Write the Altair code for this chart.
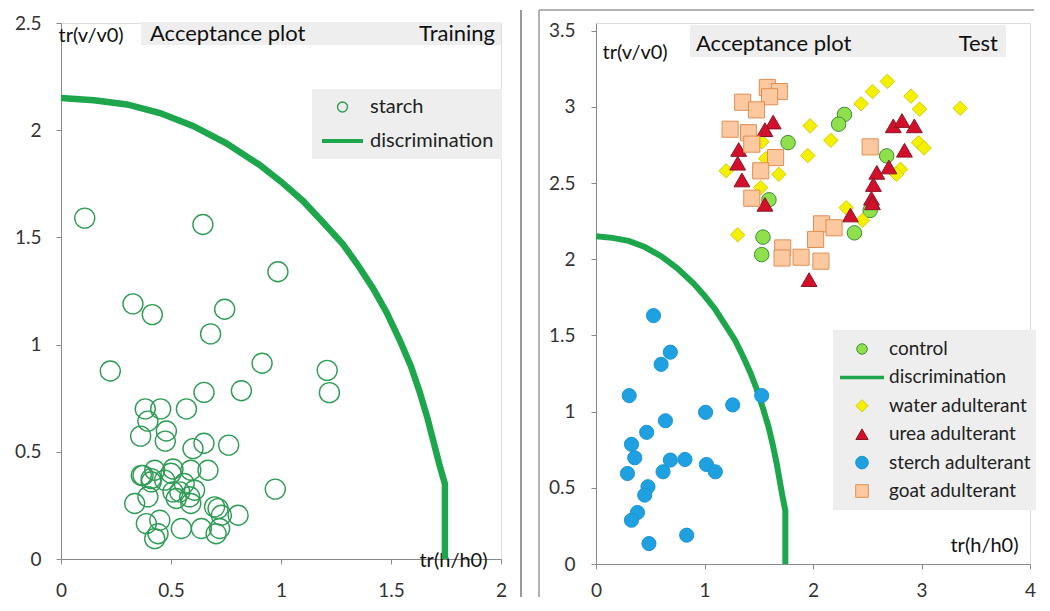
import altair as alt
import pandas as pd

# ---------------- data ----------------
# discrimination boundary
curve_x = [0.0, 0.15, 0.3, 0.45, 0.6, 0.75, 0.9, 1.0, 1.1, 1.2, 1.28, 1.35, 1.42, 1.48, 1.54, 1.59,
           1.63, 1.665, 1.695, 1.72, 1.745, 1.745]
curve_y = [2.15, 2.14, 2.12, 2.08, 2.02, 1.94, 1.84, 1.76, 1.67, 1.56, 1.47, 1.37, 1.26, 1.15, 1.02, 0.9,
           0.78, 0.66, 0.54, 0.44, 0.35, 0.0]

# training: starch
starch_x = [0.108, 0.645, 0.986, 0.327, 0.415, 0.744, 0.68, 0.224, 0.914, 1.21, 1.22, 0.82, 0.65, 0.57,
            0.383, 0.453, 0.395, 0.362, 0.479, 0.474, 0.6, 0.65, 0.762, 0.974, 0.373, 0.426, 0.509, 0.59,
            0.668, 0.41, 0.471, 0.509, 0.56, 0.607, 0.335, 0.395, 0.524, 0.59, 0.698, 0.729, 0.805, 0.388,
            0.449, 0.547, 0.638, 0.721, 0.441, 0.426, 0.705, 0.714, 0.41, 0.5, 0.54, 0.585, 0.365]
starch_y = [1.59, 1.56, 1.34, 1.19, 1.14, 1.165, 1.05, 0.877, 0.913, 0.88, 0.776, 0.785, 0.777, 0.70,
            0.70, 0.70, 0.643, 0.573, 0.597, 0.55, 0.515, 0.54, 0.531, 0.326, 0.39, 0.414, 0.42, 0.414,
            0.414, 0.36, 0.368, 0.313, 0.352, 0.321, 0.259, 0.29, 0.282, 0.259, 0.243, 0.204, 0.204, 0.165,
            0.181, 0.142, 0.142, 0.142, 0.118, 0.095, 0.118, 0.235, 0.375, 0.4, 0.313, 0.29, 0.39]

# test set
control_x = [2.29, 2.236, 1.77, 2.679, 1.594, 2.527, 2.382, 1.539, 1.527]
control_y = [2.95, 2.886, 2.765, 2.678, 2.39, 2.32, 2.173, 2.145, 2.03]

water_x = [2.685, 2.548, 2.903, 2.443, 2.982, 3.357, 1.973, 2.164, 1.952, 2.973, 3.024, 1.2, 1.685,
           1.518, 2.806, 2.77, 2.457, 2.306, 1.306, 1.564, 1.53]
water_y = [3.167, 3.1, 3.07, 3.02, 2.985, 2.99, 2.875, 2.78, 2.68, 2.765, 2.73, 2.58, 2.557,
           2.47, 2.59, 2.557, 2.255, 2.338, 2.16, 2.66, 2.77]

urea_x = [1.633, 1.557, 1.315, 1.306, 1.345, 1.557, 2.74, 2.82, 2.934, 2.843, 2.7, 2.588, 2.557,
          2.539, 2.548, 2.345, 1.964]
urea_y = [2.9, 2.85, 2.72, 2.63, 2.52, 2.36, 2.875, 2.91, 2.875, 2.715, 2.605, 2.57, 2.49,
          2.4, 2.37, 2.29, 1.866]

sterch_x = [0.53, 0.685, 0.6, 0.306, 1.527, 1.26, 1.01, 0.64, 0.467, 0.327, 0.357, 0.685, 0.82,
            0.29, 0.618, 1.018, 1.1, 0.479, 0.449, 0.382, 0.327, 0.488, 0.836]
sterch_y = [1.63, 1.39, 1.31, 1.105, 1.105, 1.044, 0.995, 0.94, 0.864, 0.785, 0.697, 0.682, 0.686,
            0.594, 0.605, 0.653, 0.605, 0.507, 0.452, 0.338, 0.287, 0.134, 0.189]

goat_x = [1.579, 1.69, 1.6, 1.352, 1.479, 1.236, 1.406, 1.436, 1.655, 1.518, 1.436, 2.527, 2.079,
          2.194, 2.024, 1.721, 1.715, 1.89, 2.073]
goat_y = [3.127, 3.1, 3.066, 3.03, 2.98, 2.853, 2.83, 2.755, 2.667, 2.58, 2.4, 2.737, 2.232,
          2.206, 2.13, 2.074, 2.008, 2.013, 1.987]

train_series = ["starch", "discrimination"]
test_series = ["control", "discrimination", "water adulterant", "urea adulterant",
               "sterch adulterant", "goat adulterant"]

# ---------------- styles ----------------
FONT = "Lato"
AXIS_GRAY = "#8a8a8a"
CURVE_GREEN = "#1ea64c"
STARCH_GREEN = "#2e9c55"
BOX_GRAY = "#eeeeee"

fill_map = {"control": "#8fe04c", "discrimination": "transparent", "water adulterant": "#f4f000",
            "urea adulterant": "#d3102c", "sterch adulterant": "#1fa0e0", "goat adulterant": "#fcc8a0"}
stroke_map = {"control": "#3b8f35", "discrimination": CURVE_GREEN, "water adulterant": "#cfcf10",
              "urea adulterant": "#8a1424", "sterch adulterant": "#1a94d4", "goat adulterant": "#df8f52"}
shape_map = {"control": "circle", "discrimination": "stroke", "water adulterant": "diamond",
             "urea adulterant": "triangle-up", "sterch adulterant": "circle", "goat adulterant": "square"}
size_map = {"control": 210, "discrimination": 230, "water adulterant": 210, "urea adulterant": 250,
            "sterch adulterant": 200, "goat adulterant": 260}
legend_size_map = {"control": 110, "discrimination": 1936, "water adulterant": 150,
                   "urea adulterant": 150, "sterch adulterant": 160, "goat adulterant": 160}
legend_sw_map = {"control": 1, "discrimination": 3.5, "water adulterant": 1,
                 "urea adulterant": 1, "sterch adulterant": 1, "goat adulterant": 1}


def axis(values, **kw):
    base = dict(values=values, format="~g", grid=False, domainColor=AXIS_GRAY, tickColor=AXIS_GRAY,
                tickSize=5, labelFont=FONT, labelFontSize=19, labelColor="#333333", labelFlush=False,
                labelOverlap=False, titleFont=FONT, titleFontSize=20, titleFontWeight="normal",
                titleColor="#111111", titleAngle=0)
    base.update(kw)
    return alt.Axis(**base)


# ---------------- tables ----------------
curve_df = pd.DataFrame({"x": curve_x, "y": curve_y, "i": list(range(len(curve_x)))})
starch_df = pd.DataFrame({"x": starch_x, "y": starch_y})
empty_df = pd.DataFrame({"series": pd.Series([], dtype=str)})

# ---------------- left panel (training) ----------------
xl = alt.X("x:Q", scale=alt.Scale(domain=[0, 2], nice=False, zero=False),
           axis=axis([0, 0.5, 1, 1.5, 2], title="tr(h/h0)", titleX=392, titleY=1,
                     titleAlign="center", titleBaseline="middle", labelPadding=17))
yl = alt.Y("y:Q", scale=alt.Scale(domain=[0, 2.5], nice=False, zero=False),
           axis=axis([0, 0.5, 1, 1.5, 2, 2.5], title="tr(v/v0)", titleX=-3, titleY=12,
                     titleAlign="left", titleBaseline="middle", labelPadding=15))


def left_legend():
    return alt.Legend(title=None, orient="none", legendX=251, legendY=66, fillColor=BOX_GRAY,
                      padding=8, clipHeight=20, rowPadding=14, labelOffset=5, labelFont=FONT,
                      labelFontSize=20, labelColor="#222222", symbolOpacity=1)


left_curve = alt.Chart(curve_df).mark_line(color=CURVE_GREEN, strokeWidth=6.5).encode(
    x=xl, y=yl, order="i:Q")
left_pts = alt.Chart(starch_df).mark_point(shape="circle", filled=False, size=400, strokeWidth=1.4,
                                           opacity=1, color=STARCH_GREEN).encode(x=xl, y=yl)
left_leg = alt.Chart(empty_df).mark_point(filled=False, opacity=1).encode(
    stroke=alt.Stroke("series:N", scale=alt.Scale(domain=train_series, range=[STARCH_GREEN, CURVE_GREEN]),
                      legend=left_legend()),
    shape=alt.Shape("series:N", scale=alt.Scale(domain=train_series, range=["circle", "stroke"]),
                    legend=left_legend()),
    size=alt.Size("series:N", scale=alt.Scale(type="ordinal", domain=train_series, range=[100, 1681]),
                  legend=left_legend()),
    strokeWidth=alt.StrokeWidth("series:N", scale=alt.Scale(type="ordinal", domain=train_series,
                                                            range=[1.4, 4]),
                                legend=left_legend()),
)

left_box = alt.Chart(pd.DataFrame({"k": [1]})).mark_rect(color=BOX_GRAY).encode(
    x=alt.value(80), x2=alt.value(440), y=alt.value(-1), y2=alt.value(22))
left_t1 = alt.Chart(pd.DataFrame({"t": ["Acceptance plot"]})).mark_text(
    align="left", baseline="middle", font=FONT, fontSize=22, color="#111111").encode(
    x=alt.value(89), y=alt.value(11), text="t:N")
left_t2 = alt.Chart(pd.DataFrame({"t": ["Training"]})).mark_text(
    align="right", baseline="middle", font=FONT, fontSize=22, color="#111111").encode(
    x=alt.value(434), y=alt.value(11), text="t:N")

left = alt.layer(left_box, left_t1, left_t2, left_curve, left_pts, left_leg).properties(
    width=440, height=536)

# ---------------- right panel (test) ----------------
xr = alt.X("x:Q", scale=alt.Scale(domain=[0, 4], nice=False, zero=False),
           axis=axis([0, 1, 2, 3, 4], title="tr(h/h0)", titleX=388, titleY=-19,
                     titleAlign="center", titleBaseline="middle", labelPadding=12))
yr = alt.Y("y:Q", scale=alt.Scale(domain=[0, 3.55], nice=False, zero=False),
           axis=axis([0, 0.5, 1, 1.5, 2, 2.5, 3, 3.5], title="tr(v/v0)", titleX=6, titleY=29,
                     titleAlign="left", titleBaseline="middle", labelPadding=16))


def right_legend():
    return alt.Legend(title=None, orient="none", legendX=237, legendY=307, fillColor=BOX_GRAY,
                      padding=5, clipHeight=28, rowPadding=0.4, labelOffset=3, labelFont=FONT,
                      labelFontSize=19, labelColor="#222222", symbolOpacity=1)


right_curve = alt.Chart(curve_df).mark_line(color=CURVE_GREEN, strokeWidth=6).encode(
    x=xr, y=yr, order="i:Q")

series_layers = []
for name, xs, ys in [("control", control_x, control_y), ("water adulterant", water_x, water_y),
                     ("urea adulterant", urea_x, urea_y), ("sterch adulterant", sterch_x, sterch_y),
                     ("goat adulterant", goat_x, goat_y)]:
    df = pd.DataFrame({"x": xs, "y": ys})
    series_layers.append(
        alt.Chart(df).mark_point(shape=shape_map[name], filled=True, fill=fill_map[name],
                                 stroke=stroke_map[name], strokeWidth=1, size=size_map[name],
                                 opacity=1).encode(x=xr, y=yr))

right_leg = alt.Chart(empty_df).mark_point(filled=True, opacity=1).encode(
    fill=alt.Fill("series:N", scale=alt.Scale(domain=test_series, range=[fill_map[s] for s in test_series]),
                  legend=right_legend()),
    stroke=alt.Stroke("series:N", scale=alt.Scale(domain=test_series,
                                                  range=[stroke_map[s] for s in test_series]),
                      legend=right_legend()),
    shape=alt.Shape("series:N", scale=alt.Scale(domain=test_series,
                                                range=[shape_map[s] for s in test_series]),
                    legend=right_legend()),
    size=alt.Size("series:N", scale=alt.Scale(type="ordinal", domain=test_series,
                                              range=[legend_size_map[s] for s in test_series]),
                  legend=right_legend()),
    strokeWidth=alt.StrokeWidth("series:N", scale=alt.Scale(type="ordinal", domain=test_series,
                                                            range=[legend_sw_map[s] for s in test_series]),
                                legend=right_legend()),
)

one = pd.DataFrame({"k": [1]})
frame_top = alt.Chart(one).mark_rule(color="#9a9a9a", strokeWidth=1.5).encode(
    x=alt.value(-57), x2=alt.value(438), y=alt.value(-13))
frame_left = alt.Chart(one).mark_rule(color="#9a9a9a", strokeWidth=1.5).encode(
    x=alt.value(-57), y=alt.value(-13), y2=alt.value(574))
separator = alt.Chart(one).mark_rule(color="#9a9a9a", strokeWidth=2).encode(
    x=alt.value(-75), y=alt.value(-13), y2=alt.value(574))
right_box = alt.Chart(one).mark_rect(color=BOX_GRAY).encode(
    x=alt.value(94), x2=alt.value(410), y=alt.value(2), y2=alt.value(34))
right_t1 = alt.Chart(pd.DataFrame({"t": ["Acceptance plot"]})).mark_text(
    align="left", baseline="middle", font=FONT, fontSize=22, color="#111111").encode(
    x=alt.value(100), y=alt.value(21), text="t:N")
right_t2 = alt.Chart(pd.DataFrame({"t": ["Test"]})).mark_text(
    align="right", baseline="middle", font=FONT, fontSize=22, color="#111111").encode(
    x=alt.value(402), y=alt.value(21), text="t:N")

right = alt.layer(frame_top, frame_left, separator, right_box, right_t1, right_t2,
                  right_curve, *series_layers, right_leg).properties(width=434, height=541)

chart = alt.hconcat(left, right, spacing=95, bounds="flush").resolve_scale(
    x="independent", y="independent", fill="independent", stroke="independent",
    shape="independent", size="independent", strokeWidth="independent"
).properties(
    padding={"left": 5, "top": 0, "right": 0, "bottom": 0}, background="white"
).configure_view(stroke=None).configure(font=FONT)

chart.save("out.html", embed_options={"renderer": "svg", "actions": False})
